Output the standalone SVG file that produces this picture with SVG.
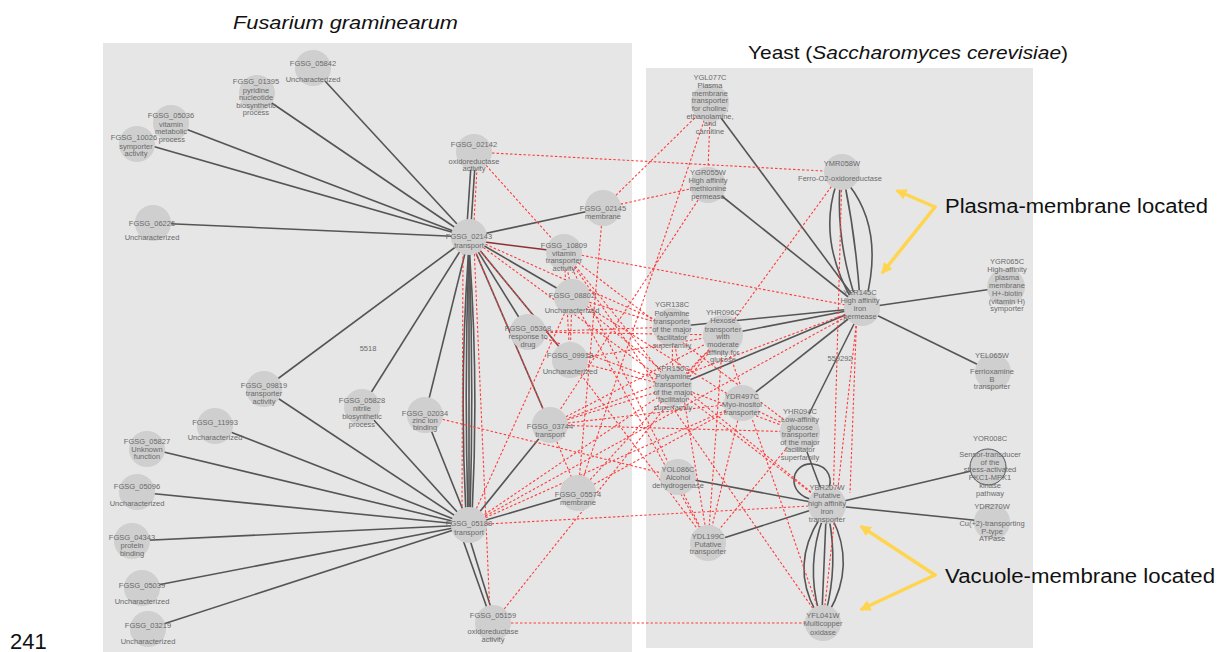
<svg xmlns="http://www.w3.org/2000/svg" width="1223" height="652" viewBox="0 0 1223 652">
<defs>
<style>
.panel{fill:#e6e6e6}
.node circle{fill:#cfcfcf}
.node text{font-family:"Liberation Sans",Arial,sans-serif;font-size:7.5px;fill:#6a6a6a;text-anchor:middle}
.s{stroke:#555;stroke-width:1.6;fill:none}
.r{stroke:#ff3c3c;stroke-width:1.1;stroke-dasharray:2.5 2;fill:none}
.dr{stroke:#8e3030;stroke-width:1.5;fill:none}
.ttl{font-family:"Liberation Sans",Arial,sans-serif;font-size:19px;fill:#111}
.ann{font-family:"Liberation Sans",Arial,sans-serif;font-size:20px;fill:#111}
.ya{stroke:#FFD54F;stroke-width:3.5;fill:none;stroke-linecap:round}
.num{font-family:"Liberation Sans",Arial,sans-serif;font-size:7.5px;fill:#6a6a6a;text-anchor:middle}
</style>
<marker id="yh" markerWidth="3.2" markerHeight="3.2" refX="2.4" refY="1.6" orient="auto" markerUnits="strokeWidth">
<path d="M0,0 L3.2,1.6 L0,3.2 z" fill="#FFD54F"/>
</marker>
</defs>
<rect width="1223" height="652" fill="#ffffff"/>
<rect class="panel" x="103" y="43" width="529" height="612"/>
<rect class="panel" x="646" y="68" width="387" height="580"/>

<text class="ttl" x="233" y="29" font-style="italic" textLength="225" lengthAdjust="spacingAndGlyphs">Fusarium graminearum</text>
<text class="ttl" x="748" y="59" textLength="320" lengthAdjust="spacingAndGlyphs">Yeast (<tspan font-style="italic">Saccharomyces cerevisiae</tspan>)</text>
<text class="ann" x="945" y="213" textLength="263" lengthAdjust="spacingAndGlyphs">Plasma-membrane located</text>
<text class="ann" x="945" y="583" textLength="270" lengthAdjust="spacingAndGlyphs">Vacuole-membrane located</text>
<text x="10" y="649" font-family="Liberation Sans, Arial, sans-serif" font-size="22" fill="#111">241</text>

<g id="connectors">
<!-- solid, Fusarium -->
<line class="s" x1="469" y1="237" x2="313" y2="68"/>
<line class="s" x1="469" y1="237" x2="257" y2="93"/>
<line class="s" x1="469" y1="237" x2="170" y2="123"/>
<line class="s" x1="469" y1="237" x2="138" y2="142"/>
<line class="s" x1="469" y1="237" x2="153" y2="223"/>
<line class="s" x1="469" y1="237" x2="603" y2="208"/>
<line class="s" x1="469" y1="237" x2="572" y2="297"/>
<line class="s" x1="469" y1="237" x2="528" y2="332"/>
<line class="s" x1="469" y1="237" x2="570" y2="360"/>
<line class="s" x1="469" y1="237" x2="264" y2="389"/>
<line class="s" x1="469" y1="237" x2="362" y2="407"/>
<line class="s" x1="469" y1="237" x2="425" y2="415"/>
<line class="s" x1="469" y1="237" x2="550" y2="425"/>
<line class="s" x1="467" y1="225" x2="471" y2="165"/>
<line class="s" x1="471" y1="225" x2="475" y2="165"/>
<line class="dr" x1="469" y1="240" x2="564" y2="252"/>
<path class="s" d="M469 245 Q459 381 466 515"/>
<path class="s" d="M469 245 Q464 381 468 515"/>
<path class="s" d="M469 245 L469 515"/>
<path class="s" d="M469 245 Q474 381 470 515"/>
<path class="s" d="M469 245 Q479 381 472 515"/>
<line class="s" x1="469" y1="525" x2="215" y2="426"/>
<line class="s" x1="469" y1="525" x2="147" y2="448"/>
<line class="s" x1="469" y1="525" x2="137" y2="492"/>
<line class="s" x1="469" y1="525" x2="132" y2="541"/>
<line class="s" x1="469" y1="525" x2="142" y2="588"/>
<line class="s" x1="469" y1="525" x2="148" y2="629"/>
<line class="s" x1="469" y1="525" x2="264" y2="389"/>
<line class="s" x1="469" y1="525" x2="362" y2="407"/>
<line class="s" x1="469" y1="525" x2="425" y2="415"/>
<line class="s" x1="469" y1="525" x2="550" y2="425"/>
<line class="s" x1="469" y1="525" x2="578" y2="493"/>
<line class="s" x1="463" y1="540" x2="487" y2="608"/>
<line class="s" x1="470" y1="540" x2="491" y2="608"/>
<!-- solid, yeast -->
<line class="s" x1="862" y1="308" x2="710" y2="103"/>
<line class="s" x1="862" y1="308" x2="708" y2="185"/>
<line class="s" x1="862" y1="308" x2="1006" y2="287"/>
<line class="s" x1="862" y1="308" x2="993" y2="372"/>
<line class="s" x1="862" y1="308" x2="672" y2="327"/>
<line class="s" x1="862" y1="308" x2="723" y2="335"/>
<line class="s" x1="862" y1="308" x2="673" y2="387"/>
<line class="s" x1="862" y1="308" x2="742" y2="403"/>
<line class="s" x1="862" y1="308" x2="800" y2="432"/>
<path class="s" d="M836 185 Q818 240 852 300"/>
<path class="s" d="M840 185 Q836 240 856 300"/>
<path class="s" d="M845 185 Q856 240 860 300"/>
<path class="s" d="M849 185 Q884 230 866 300"/>
<line class="s" x1="807" y1="452" x2="822" y2="492"/>
<line class="s" x1="827" y1="505" x2="678" y2="477"/>
<line class="s" x1="827" y1="505" x2="708" y2="543"/>
<line class="s" x1="827" y1="505" x2="988" y2="467"/>
<line class="s" x1="827" y1="505" x2="992" y2="522"/>
<path class="s" d="M820 518 Q790 565 816 612"/>
<path class="s" d="M823 518 Q806 565 819 612"/>
<path class="s" d="M826 518 L822 612"/>
<path class="s" d="M829 518 Q838 565 826 612"/>
<path class="s" d="M832 518 Q856 565 829 612"/>
<path class="s" d="M814 500 C785 495 790 462 813 464 C829 466 834 480 827 492"/>
<!-- dashed interactions -->
<line class="r" x1="474" y1="152" x2="842" y2="172"/>
<line class="r" x1="474" y1="152" x2="564" y2="252"/>
<line class="r" x1="477" y1="168" x2="474" y2="222"/>
<line class="r" x1="603" y1="208" x2="710" y2="103"/>
<line class="r" x1="603" y1="208" x2="708" y2="185"/>
<line class="r" x1="603" y1="208" x2="578" y2="493"/>
<line class="r" x1="710" y1="118" x2="708" y2="170"/>
<line class="r" x1="710" y1="103" x2="578" y2="493"/>
<line class="r" x1="708" y1="185" x2="550" y2="425"/>
<line class="r" x1="842" y1="172" x2="723" y2="335"/>
<line class="r" x1="842" y1="172" x2="833" y2="505"/>
<line class="r" x1="858" y1="308" x2="823" y2="623"/>
<line class="r" x1="564" y1="252" x2="862" y2="308"/>
<line class="r" x1="862" y1="308" x2="469" y2="525"/>
<line class="r" x1="862" y1="308" x2="550" y2="425"/>
<line class="r" x1="469" y1="525" x2="827" y2="505"/>
<line class="r" x1="493" y1="623" x2="823" y2="623"/>
<line class="r" x1="474" y1="245" x2="490" y2="615"/>
<line class="r" x1="493" y1="623" x2="723" y2="335"/>
<line class="r" x1="425" y1="415" x2="678" y2="477"/>
<line class="r" x1="550" y1="425" x2="673" y2="387"/>
<line class="r" x1="550" y1="425" x2="742" y2="403"/>
<line class="r" x1="550" y1="425" x2="800" y2="432"/>
<line class="r" x1="550" y1="425" x2="723" y2="335"/>
<line class="r" x1="572" y1="297" x2="672" y2="327"/>
<line class="r" x1="572" y1="297" x2="742" y2="403"/>
<line class="r" x1="567" y1="268" x2="570" y2="282"/>
<line class="r" x1="572" y1="297" x2="570" y2="360"/>
<line class="r" x1="572" y1="297" x2="827" y2="505"/>
<line class="r" x1="528" y1="332" x2="672" y2="327"/>
<line class="r" x1="528" y1="332" x2="723" y2="335"/>
<line class="r" x1="570" y1="360" x2="723" y2="335"/>
<line class="r" x1="570" y1="360" x2="673" y2="387"/>
<line class="r" x1="570" y1="360" x2="708" y2="543"/>
<line class="r" x1="564" y1="252" x2="673" y2="387"/>
<line class="r" x1="564" y1="252" x2="800" y2="432"/>
<line class="r" x1="564" y1="252" x2="708" y2="543"/>
<line class="r" x1="564" y1="252" x2="570" y2="360"/>
<line class="r" x1="469" y1="237" x2="570" y2="360"/>
<line class="r" x1="469" y1="237" x2="550" y2="425"/>
<line class="r" x1="469" y1="237" x2="672" y2="327"/>
<line class="r" x1="469" y1="237" x2="673" y2="387"/>
<line class="r" x1="463" y1="252" x2="462" y2="510"/>
<line class="r" x1="672" y1="327" x2="673" y2="387"/>
<line class="r" x1="673" y1="387" x2="723" y2="335"/>
<line class="r" x1="673" y1="387" x2="469" y2="525"/>
<line class="r" x1="673" y1="387" x2="827" y2="505"/>
<line class="r" x1="723" y1="335" x2="708" y2="543"/>
<line class="r" x1="723" y1="335" x2="823" y2="623"/>
<line class="r" x1="742" y1="403" x2="708" y2="543"/>
<line class="r" x1="742" y1="403" x2="800" y2="432"/>
<line class="r" x1="800" y1="432" x2="708" y2="543"/>
<line class="r" x1="578" y1="493" x2="723" y2="335"/>
<line class="r" x1="578" y1="493" x2="742" y2="403"/>
<line class="r" x1="672" y1="327" x2="708" y2="543"/>
<line class="r" x1="550" y1="425" x2="578" y2="493"/>
<line class="r" x1="469" y1="525" x2="572" y2="297"/>
<line class="r" x1="564" y1="252" x2="823" y2="623"/>
<line class="r" x1="572" y1="297" x2="708" y2="543"/>
<line class="r" x1="469" y1="525" x2="742" y2="403"/>
<line class="r" x1="528" y1="332" x2="800" y2="432"/>
<line class="r" x1="857" y1="308" x2="850" y2="493"/>
</g>

<g id="FGSG_05842" class="node"><circle cx="313" cy="68" r="18"/><text x="313" y="65.5">FGSG_05842</text><text x="313" y="81.5">Uncharacterized</text></g>
<g id="FGSG_01395" class="node"><circle cx="257" cy="93" r="18"/><text x="256" y="83.5">FGSG_01395</text><text x="256" y="92.5">pyridine</text><text x="256" y="99.5">nucleotide</text><text x="256" y="107.5">biosynthetic</text><text x="256" y="114.5">process</text></g>
<g id="FGSG_05036" class="node"><circle cx="171" cy="123" r="18"/><text x="171" y="117.5">FGSG_05036</text><text x="171" y="126.5">vitamin</text><text x="171" y="133.5">metabolic</text><text x="172" y="141.5">process</text></g>
<g id="FGSG_10026" class="node"><circle cx="137" cy="144" r="18"/><text x="134" y="139.5">FGSG_10026</text><text x="136" y="148.5">symporter</text><text x="136" y="155.5">activity</text></g>
<g id="FGSG_06225" class="node"><circle cx="153" cy="223" r="18"/><text x="152" y="225.5">FGSG_06225</text><text x="152" y="239.5">Uncharacterized</text></g>
<g id="FGSG_02142" class="node"><circle cx="474" cy="152" r="18"/><text x="474" y="146.5">FGSG_02142</text><text x="474" y="163.5">oxidoreductase</text><text x="474" y="170.5">activity</text></g>
<g id="FGSG_02145" class="node"><circle cx="603" cy="208" r="18"/><text x="603" y="210.5">FGSG_02145</text><text x="603" y="218.5">membrane</text></g>
<g id="FGSG_02143" class="node"><circle cx="469" cy="237" r="18"/><text x="469" y="238.5">FGSG_02143</text><text x="469" y="247.5">transport</text></g>
<g id="FGSG_10809" class="node"><circle cx="564" cy="252" r="18"/><text x="564" y="247.5">FGSG_10809</text><text x="564" y="255.5">vitamin</text><text x="564" y="262.5">transporter</text><text x="564" y="270.5">activity</text></g>
<g id="FGSG_08802" class="node"><circle cx="572" cy="297" r="18"/><text x="572" y="297.5">FGSG_08802</text><text x="572" y="312.5">Uncharacterized</text></g>
<g id="FGSG_05368" class="node"><circle cx="528" cy="332" r="18"/><text x="528" y="330.5">FGSG_05368</text><text x="528" y="338.5">response to</text><text x="528" y="346.5">drug</text></g>
<g id="FGSG_09918" class="node"><circle cx="570" cy="360" r="18"/><text x="570" y="357.5">FGSG_09918</text><text x="570" y="373.5">Uncharacterized</text></g>
<g id="FGSG_09819" class="node"><circle cx="264" cy="389" r="18"/><text x="264" y="387.5">FGSG_09819</text><text x="264" y="395.5">transporter</text><text x="264" y="403.5">activity</text></g>
<g id="FGSG_05828" class="node"><circle cx="362" cy="407" r="18"/><text x="362" y="402.5">FGSG_05828</text><text x="362" y="410.5">nitrile</text><text x="362" y="418.5">biosynthetic</text><text x="362" y="426.5">process</text></g>
<g id="FGSG_02034" class="node"><circle cx="425" cy="415" r="18"/><text x="425" y="415.5">FGSG_02034</text><text x="425" y="422.5">zinc ion</text><text x="425" y="429.5">binding</text></g>
<g id="FGSG_03744" class="node"><circle cx="550" cy="425" r="18"/><text x="550" y="428.5">FGSG_03744</text><text x="550" y="436.5">transport</text></g>
<g id="FGSG_11993" class="node"><circle cx="215" cy="426" r="18"/><text x="215" y="424.5">FGSG_11993</text><text x="215" y="439.5">Uncharacterized</text></g>
<g id="FGSG_05827" class="node"><circle cx="147" cy="449" r="18"/><text x="147" y="443.5">FGSG_05827</text><text x="147" y="451.5">Unknown</text><text x="147" y="458.5">function</text></g>
<g id="FGSG_05096" class="node"><circle cx="137" cy="492" r="18"/><text x="137" y="488.5">FGSG_05096</text><text x="137" y="505.5">Uncharacterized</text></g>
<g id="FGSG_05574" class="node"><circle cx="578" cy="493" r="18"/><text x="578" y="496.5">FGSG_05574</text><text x="578" y="504.5">membrane</text></g>
<g id="FGSG_05188" class="node"><circle cx="469" cy="525" r="18"/><text x="469" y="525.5">FGSG_05188</text><text x="469" y="534.5">transport</text></g>
<g id="FGSG_04343" class="node"><circle cx="132" cy="541" r="18"/><text x="132" y="539.5">FGSG_04343</text><text x="132" y="547.5">protein</text><text x="132" y="555.5">binding</text></g>
<g id="FGSG_05039" class="node"><circle cx="142" cy="588" r="18"/><text x="142" y="587.5">FGSG_05039</text><text x="142" y="603.5">Uncharacterized</text></g>
<g id="FGSG_03219" class="node"><circle cx="148" cy="629" r="18"/><text x="148" y="627.5">FGSG_03219</text><text x="148" y="643.5">Uncharacterized</text></g>
<g id="FGSG_05159" class="node"><circle cx="493" cy="623" r="18"/><text x="493" y="617.5">FGSG_05159</text><text x="493" y="633.5">oxidoreductase</text><text x="493" y="641.5">activity</text></g>
<text class="num" x="368" y="350.5">5518</text>

<g id="YGL077C" class="node"><circle cx="710" cy="103" r="19"/><text x="710" y="79.5">YGL077C</text><text x="710" y="87.5">Plasma</text><text x="710" y="95.5">membrane</text><text x="710" y="102.5">transporter</text><text x="710" y="110.5">for choline,</text><text x="710" y="118.5">ethanolamine,</text><text x="710" y="125.5">and</text><text x="710" y="133.5">carnitine</text></g>
<g id="YGR055W" class="node"><circle cx="708" cy="185" r="18"/><text x="708" y="174.5">YGR055W</text><text x="708" y="182.5">High affinity</text><text x="708" y="190.5">methionine</text><text x="708" y="198.5">permease</text></g>
<g id="YMR058W" class="node"><circle cx="842" cy="172" r="18"/><text x="842" y="165.5">YMR058W</text><text x="840" y="180.5">Ferro-O2-oxidoreductase</text></g>
<g id="YER145C" class="node"><circle cx="862" cy="308" r="18"/><text x="860" y="294.5">YER145C</text><text x="860" y="302.5">High affinity</text><text x="860" y="310.5">iron</text><text x="860" y="318.5">permease</text></g>
<g id="YGR065C" class="node"><circle cx="1006" cy="287" r="19"/><text x="1007" y="263.5">YGR065C</text><text x="1007" y="271.5">High-affinity</text><text x="1007" y="279.5">plasma</text><text x="1007" y="287.5">membrane</text><text x="1007" y="295.5">H+-biotin</text><text x="1007" y="303.5">(vitamin H)</text><text x="1007" y="310.5">symporter</text></g>
<g id="YGR138C" class="node"><circle cx="672" cy="327" r="19"/><text x="672" y="306.5">YGR138C</text><text x="672" y="315.5">Polyamine</text><text x="672" y="323.5">transporter</text><text x="672" y="331.5">of the major</text><text x="672" y="339.5">facilitator</text><text x="672" y="347.5">superfamily</text></g>
<g id="YHR096C" class="node"><circle cx="723" cy="335" r="20"/><text x="723" y="314.5">YHR096C</text><text x="723" y="322.5">Hexose</text><text x="723" y="331.5">transporter</text><text x="723" y="338.5">with</text><text x="723" y="346.5">moderate</text><text x="723" y="354.5">affinity for</text><text x="723" y="361.5">glucose</text></g>
<g id="YPR156C" class="node"><circle cx="673" cy="387" r="19"/><text x="673" y="370.5">YPR156C</text><text x="673" y="378.5">Polyamine</text><text x="673" y="386.5">transporter</text><text x="673" y="394.5">of the major</text><text x="673" y="401.5">facilitator</text><text x="673" y="409.5">superfamily</text></g>
<g id="YDR497C" class="node"><circle cx="742" cy="403" r="18"/><text x="742" y="398.5">YDR497C</text><text x="742" y="406.5">Myo-inositol</text><text x="742" y="414.5">transporter</text></g>
<g id="YEL065W" class="node"><circle cx="993" cy="372" r="18"/><text x="992" y="357.5">YEL065W</text><text x="992" y="373.5">Ferrioxamine</text><text x="992" y="381.5">B</text><text x="992" y="388.5">transporter</text></g>
<g id="YHR094C" class="node"><circle cx="800" cy="432" r="20"/><text x="800" y="413.5">YHR094C</text><text x="800" y="421.5">Low-affinity</text><text x="800" y="429.5">glucose</text><text x="800" y="436.5">transporter</text><text x="800" y="444.5">of the major</text><text x="800" y="451.5">facilitator</text><text x="800" y="459.5">superfamily</text></g>
<text class="num" x="840" y="360.5">559292</text>
<g id="YOR008C" class="node"><circle cx="988" cy="467" r="18" stroke="#555" stroke-width="1"/><text x="990" y="440.5">YOR008C</text><text x="990" y="456.5">Sensor-transducer</text><text x="990" y="464.5">of the</text><text x="990" y="471.5">stress-activated</text><text x="990" y="479.5">PKC1-MPK1</text><text x="990" y="487.5">kinase</text><text x="990" y="495.5">pathway</text></g>
<g id="YOL086C" class="node"><circle cx="678" cy="477" r="18"/><text x="678" y="471.5">YOL086C</text><text x="678" y="479.5">Alcohol</text><text x="678" y="487.5">dehydrogenase</text></g>
<g id="YBR207W" class="node"><circle cx="827" cy="505" r="19"/><text x="827" y="489.5">YBR207W</text><text x="827" y="497.5">Putative</text><text x="827" y="505.5">high affinity</text><text x="827" y="513.5">iron</text><text x="827" y="521.5">transporter</text></g>
<g id="YDR270W" class="node"><circle cx="992" cy="522" r="18"/><text x="992" y="508.5">YDR270W</text><text x="992" y="525.5">Cu(+2)-transporting</text><text x="992" y="533.5">P-type</text><text x="992" y="540.5">ATPase</text></g>
<g id="YDL199C" class="node"><circle cx="708" cy="543" r="18"/><text x="708" y="538.5">YDL199C</text><text x="708" y="546.5">Putative</text><text x="708" y="553.5">transporter</text></g>
<g id="YFL041W" class="node"><circle cx="823" cy="623" r="18"/><text x="823" y="617.5">YFL041W</text><text x="823" y="625.5">Multicopper</text><text x="823" y="634.5">oxidase</text></g>

<g id="annotation-arrows">
<path class="ya" d="M935 207 L898 191" marker-end="url(#yh)"/>
<path class="ya" d="M935 207 L883 272" marker-end="url(#yh)"/>
<path class="ya" d="M935 575 L862 527" marker-end="url(#yh)"/>
<path class="ya" d="M935 575 L862 609" marker-end="url(#yh)"/>
</g>
</svg>
